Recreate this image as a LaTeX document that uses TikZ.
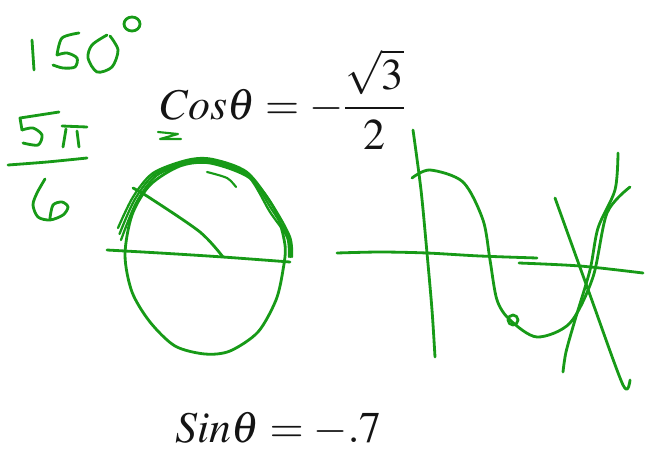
\documentclass[tikz,border=0pt]{standalone}
\usepackage{mathptmx}
\usepackage{tikz}
\usetikzlibrary{positioning}
\definecolor{inkgreen}{HTML}{179A17}
\definecolor{printtext}{HTML}{141414}

\begin{document}
\begin{tikzpicture}[x=0.02cm,y=-0.02cm,
    pen/.style={draw=inkgreen,line width=1.6pt,line cap=round,line join=round},
    eqn/.style={anchor=base west,inner sep=0pt,text=printtext,font=\fontsize{25}{30}\selectfont}]
    \useasboundingbox (0,0) rectangle (645,450);
    % 150 degrees
    \draw[pen] (32,40) -- (33,55) -- (34,70);
    \draw[pen] plot[smooth] coordinates {(79,33) (62,38) (57,55)};
    \draw[pen] plot[smooth] coordinates {(57,55) (67,53) (77,58) (75,67) (63,68) (53,65)};
    \draw[pen] plot[smooth] coordinates {(107,35) (92,45) (88,58) (97,72) (112,67) (118,50) (110,36)};
    \draw[pen] (132,24) ellipse (8 and 7);
    % 5pi over 6
    \draw[pen] (59,112) -- (20,118) -- (22,130);
    \draw[pen] plot[smooth] coordinates {(22,130) (33,128) (42,135) (38,145) (23,143)};
    \draw[pen] (62,126) -- (87,127);
    \draw[pen] (66,129) -- (63,147);
    \draw[pen] (77,131) -- (79,147);
    \draw[pen] plot[smooth] coordinates {(8,165) (47,162) (87,158)};
    \draw[pen] plot[smooth] coordinates {(45,179) (37,193) (33,205) (38,217) (50,220) (63,215) (68,207) (62,202) (53,205) (50,218)};
    % equations
    \node[eqn] (cosline) at (160,119) {$\displaystyle Cos\theta = -\frac{\sqrt{3}}{2}$};
    \node[eqn] (sinline) at (175,442) {$Sin\theta = -.7$};
    \draw[pen,line width=1.2pt] (158,132) -- (178,134) -- (160,139) -- (181,139);
    % unit circle
    \draw[pen] plot[smooth cycle] coordinates {(125,255) (132,215) (150,185) (180,166) (210,163) (250,178) (275,210) (285,245) (283,270) (276,300) (258,332) (230,351) (205,354) (175,346) (150,322) (132,292)};
    \foreach \d in {0,3,6} {
      \draw[pen,line width=1.3pt] plot[smooth] coordinates {(118+\d/2,228+\d*2) (133+\d/2,197+\d) (153+\d/2,173+\d/2) (187,160+\d/2) (212,159+\d/2) (247,172+\d/2) (273-\d/2,206+\d) (290-\d/2,237) (292-\d/2,257)};
    }
    \draw[pen,line width=1.2pt] plot[smooth] coordinates {(207,172) (227,178) (236,187)};
    \draw[pen] plot[smooth] coordinates {(107,250) (160,253) (223,257) (290,262)};
    \draw[pen] plot[smooth] coordinates {(133,188) (150,198) (200,232) (223,257)};
    % sketched graph
    \draw[pen] plot[smooth] coordinates {(413,130) (421,190) (427,253) (432,310) (435,357)};
    \draw[pen] plot[smooth] coordinates {(337,253) (380,252) (427,253) (480,256) (537,258)};
    \draw[pen] plot[smooth] coordinates {(519,263) (580,266) (643,273)};
    \draw[pen] plot[smooth] coordinates {(412,178) (430,170) (463,182) (483,220) (490,260) (497,300) (510,320) (537,337) (570,323) (593,277) (607,213) (630,187)};
    \draw[pen] (513,320) circle (5);
    \draw[pen] plot[smooth] coordinates {(618,153) (615,190) (598,228) (590,270) (575,320) (566,352) (563,372)};
    \draw[pen] plot[smooth] coordinates {(555,198) (590,295) (623,385) (630,380)};
\end{tikzpicture}
\end{document}
